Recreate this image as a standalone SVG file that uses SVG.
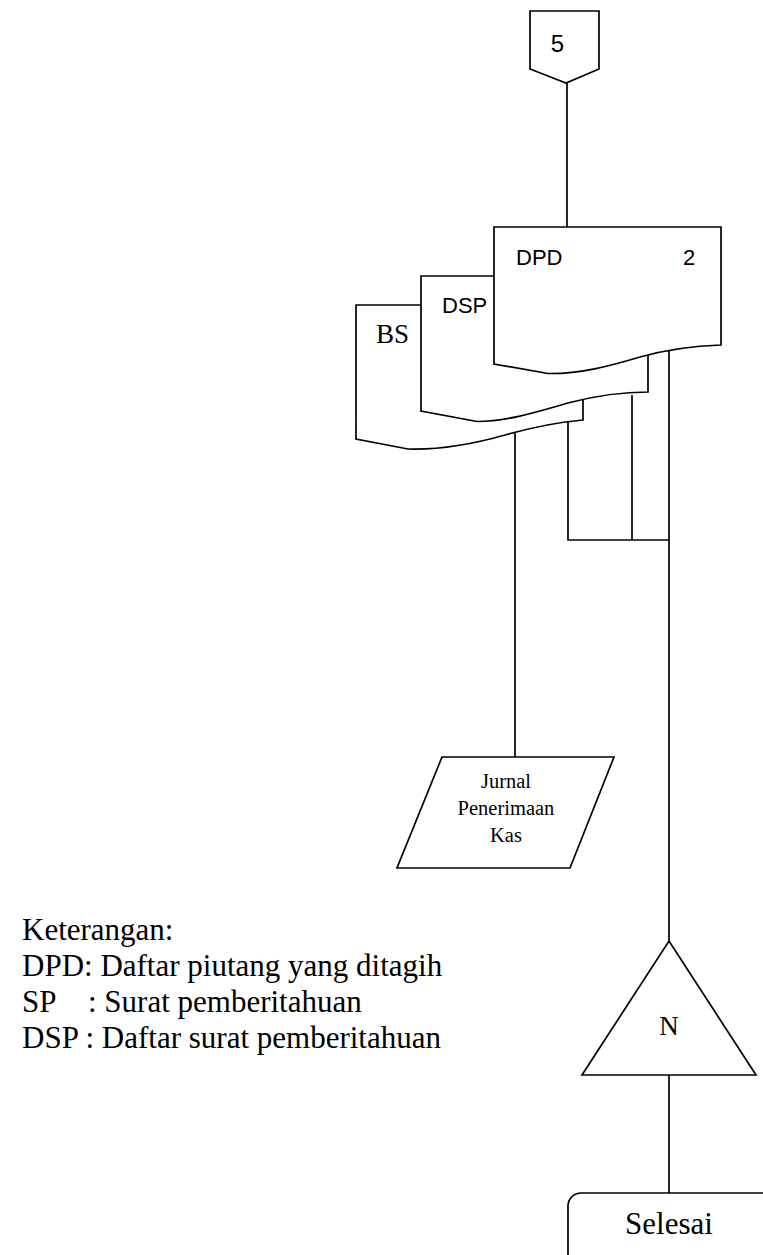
<svg xmlns="http://www.w3.org/2000/svg" width="763" height="1255" viewBox="0 0 763 1255">
<style>
.s{fill:#fff;stroke:#000;stroke-width:1.7}
.c{fill:none;stroke:#000;stroke-width:1.7}
.sans{font-family:"Liberation Sans","Open Sans",sans-serif;fill:#000}
.serif{font-family:"Liberation Serif","Times New Roman",serif;fill:#000}
</style>
<g id="connectors">
<path class="c" d="M567,83 V227"/>
<path class="c" d="M515,431 V757"/>
<path class="c" d="M568,421 V540 H669"/>
<path class="c" d="M632,395 V540"/>
<path class="c" d="M669,349 V941"/>
<path class="c" d="M669,1075 V1193"/>
</g>
<g id="offpage5">
<polygon class="s" points="530,11 599,11 599,69 566,83 530,69"/>
<text class="sans" x="557.5" y="52" font-size="24" text-anchor="middle">5</text>
</g>
<g id="docBS">
<path class="s" d="M356,305 H583 V420 C560,422 530,428 505,435 C470,445 440,450 408,449 L356,439 Z"/>
<text class="serif" x="376" y="343" font-size="27">BS</text>
</g>
<g id="docDSP">
<path class="s" d="M421,276 H648 V392 C620,392 595,396 570,402.5 C540,411 510,421 477,421.5 L421,411 Z"/>
<text class="sans" x="442" y="313" font-size="22">DSP</text>
</g>
<g id="docDPD">
<path class="s" d="M494,227 H721 V345 C690,346 665,350 640,357 C610,366 580,374 548,373.5 L494,364 Z"/>
<text class="sans" x="516" y="265" font-size="22">DPD</text>
<text class="sans" x="683" y="265" font-size="22">2</text>
</g>
<g id="jurnal">
<polygon class="s" points="442,757 614,757 570,868 397,868"/>
<text class="serif" font-size="20.5" text-anchor="middle"><tspan x="506" y="788">Jurnal</tspan><tspan x="506" y="815">Penerimaan</tspan><tspan x="506" y="842">Kas</tspan></text>
</g>
<g id="offpageN">
<polygon class="s" points="669,941 756,1075 582,1075"/>
<text class="serif" x="669" y="1035" font-size="27" text-anchor="middle">N</text>
</g>
<g id="selesai">
<rect class="s" x="568" y="1193" width="220" height="90" rx="13"/>
<text class="serif" x="669" y="1234" font-size="31" text-anchor="middle">Selesai</text>
</g>
<g id="keterangan" class="serif" font-size="31">
<text x="22" y="940">Keterangan:</text>
<text x="22" y="976">DPD: Daftar piutang yang ditagih</text>
<text y="1012"><tspan x="22">SP</tspan><tspan x="88">: Surat pemberitahuan</tspan></text>
<text x="22" y="1048">DSP : Daftar surat pemberitahuan</text>
</g>
</svg>
